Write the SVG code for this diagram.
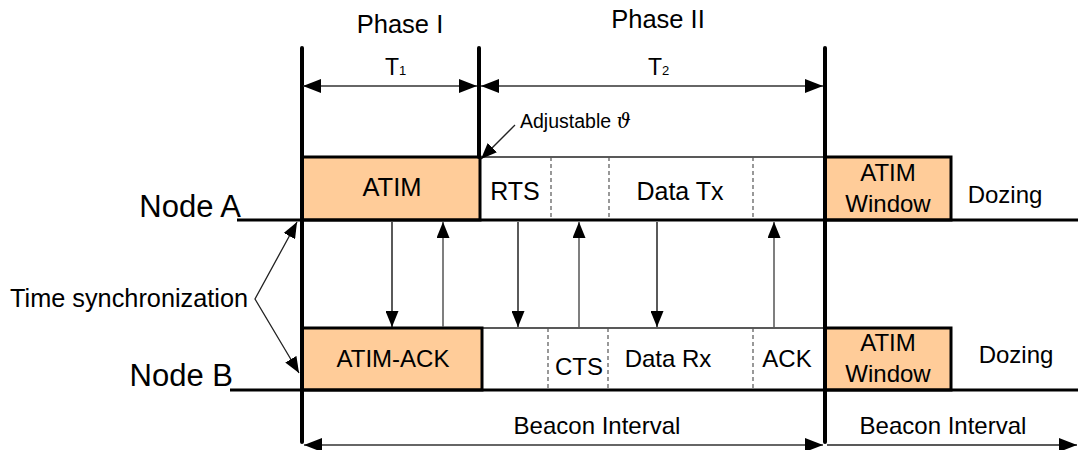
<svg xmlns="http://www.w3.org/2000/svg" width="1083" height="450" viewBox="0 0 1083 450">
<defs>
<marker id="ah" markerUnits="userSpaceOnUse" markerWidth="18" markerHeight="14" refX="18" refY="7" orient="auto-start-reverse" viewBox="0 0 18 14"><path d="M0,0 L18,7 L0,14 z" fill="#000"/></marker>
<marker id="as" markerUnits="userSpaceOnUse" markerWidth="16" markerHeight="13" refX="16" refY="6.5" orient="auto-start-reverse" viewBox="0 0 16 13"><path d="M0,0 L16,6.5 L0,13 z" fill="#000"/></marker>
<style>
text{font-family:"Liberation Sans",Arial,sans-serif;fill:#000}
.t{font-size:24px;text-anchor:middle}
.ph{font-size:25.5px;text-anchor:middle}
.big{font-size:31px;text-anchor:end}
.box{fill:#FFCC99;stroke:#000;stroke-width:3}
.thick{stroke:#000;stroke-width:4;fill:none;stroke-linecap:round}
.rowline{stroke:#000;stroke-width:3;fill:none}
.thin{stroke:#222;stroke-width:1.3;fill:none}
.dash{stroke:#555;stroke-width:1.2;stroke-dasharray:4 3;fill:none}
.down{stroke:#000;stroke-width:1.3;fill:none;marker-end:url(#as)}
.up{stroke:#555;stroke-width:1.5;fill:none;marker-end:url(#as)}
.dim{stroke:#333;stroke-width:1.3;fill:none;marker-start:url(#ah);marker-end:url(#ah)}
</style>
</defs>

<g id="labels">
<text class="ph" x="400" y="33">Phase I</text>
<text class="ph" x="658" y="28">Phase II</text>
<text x="385" y="75" style="font-size:23px">T<tspan style="font-size:13px">1</tspan></text>
<text x="648" y="75" style="font-size:23px">T<tspan style="font-size:13px">2</tspan></text>
<text x="520" y="128" style="font-size:19.5px">Adjustable <tspan style="font-family:'DejaVu Serif',serif;font-style:italic;font-size:20px">ϑ</tspan></text>
<text class="big" x="241" y="217">Node A</text>
<text class="big" x="233" y="386">Node B</text>
<text x="10" y="307" style="font-size:25.3px">Time synchronization</text>
<text class="t" x="597" y="434">Beacon Interval</text>
<text class="t" x="943" y="434">Beacon Interval</text>
</g>

<g id="nodeA">
<line class="thin" x1="479" y1="157" x2="825" y2="157"/>
<line class="dash" x1="551" y1="157" x2="551" y2="220"/>
<line class="dash" x1="609" y1="157" x2="609" y2="220"/>
<line class="dash" x1="753" y1="157" x2="753" y2="220"/>
<rect id="atim" class="box" x="302" y="157" width="178" height="63"/>
<text class="t" x="392" y="196" style="font-size:25.5px">ATIM</text>
<text class="t" x="515" y="200" style="font-size:25px">RTS</text>
<text class="t" x="680" y="200" style="font-size:25px">Data Tx</text>
<rect id="atimWinA" class="box" x="825" y="157" width="126" height="63"/>
<text class="t" x="888" y="181">ATIM</text>
<text class="t" x="888" y="212">Window</text>
<text class="t" x="1005" y="203">Dozing</text>
<line class="rowline" x1="237" y1="220" x2="1078" y2="220"/>
</g>

<g id="nodeB">
<line class="thin" x1="481" y1="328" x2="825" y2="328"/>
<line class="dash" x1="548" y1="328" x2="548" y2="390"/>
<line class="dash" x1="608" y1="328" x2="608" y2="390"/>
<line class="dash" x1="753" y1="328" x2="753" y2="390"/>
<rect id="atimAck" class="box" x="302" y="328" width="180" height="62"/>
<text class="t" x="393" y="367">ATIM-ACK</text>
<text class="t" x="579" y="375">CTS</text>
<text class="t" x="668" y="367">Data Rx</text>
<text class="t" x="787" y="367">ACK</text>
<rect id="atimWinB" class="box" x="825" y="328" width="126" height="62"/>
<text class="t" x="888" y="351">ATIM</text>
<text class="t" x="888" y="382">Window</text>
<text class="t" x="1016" y="363">Dozing</text>
<line class="rowline" x1="230" y1="390" x2="1078" y2="390"/>
</g>

<g id="timeline">
<line class="thick" x1="302" y1="48" x2="302" y2="442"/>
<line class="thick" x1="479" y1="48" x2="479" y2="157"/>
<line class="thick" x1="825" y1="48" x2="825" y2="442"/>
</g>

<g id="connectors">
<line class="dim" x1="303" y1="86" x2="477" y2="86"/>
<line class="dim" x1="481" y1="86" x2="823" y2="86"/>
<line class="dim" x1="304" y1="445" x2="823" y2="445"/>
<line class="thin" x1="827" y1="445" x2="1077" y2="445" style="marker-end:url(#ah)"/>
<line class="thin" x1="515" y1="125" x2="481" y2="159" style="marker-end:url(#as)"/>
<polyline class="thin" points="297,222 255,299 299,373" style="marker-start:url(#as);marker-end:url(#as)"/>
<line class="down" x1="392" y1="222" x2="392" y2="327"/>
<line class="up" x1="443" y1="327" x2="443" y2="222"/>
<line class="down" x1="518" y1="222" x2="518" y2="327"/>
<line class="up" x1="579" y1="327" x2="579" y2="222"/>
<line class="down" x1="657" y1="222" x2="657" y2="327"/>
<line class="up" x1="774" y1="327" x2="774" y2="222"/>
</g>
</svg>
